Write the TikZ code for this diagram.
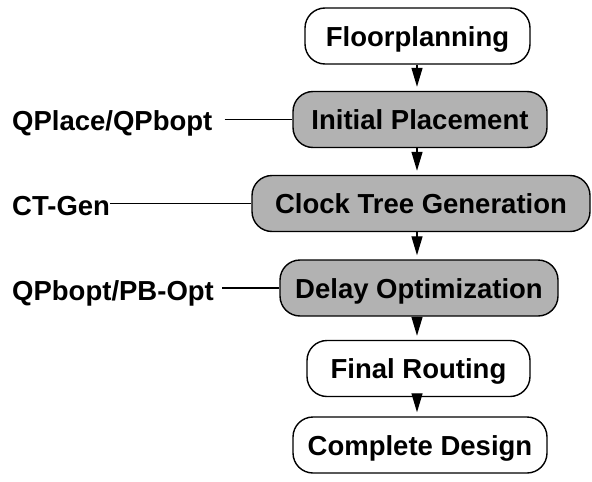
\documentclass[tikz,border=0pt]{standalone}
\usepackage{fontspec}
\setmainfont{Liberation Sans}
\usetikzlibrary{arrows.meta,calc}
\definecolor{boxgray}{RGB}{178,178,178}
\begin{document}
\begin{tikzpicture}[x=1pt,y=-1pt,
  every node/.style={font=\fontsize{27.5}{30}\selectfont\bfseries,text height=20pt,text depth=0pt},
  stepbox/.style={draw=black,line width=1.4pt,rounded corners=20pt,minimum height=56pt,inner sep=0pt,anchor=center},
  whitebox/.style={stepbox,fill=white},
  graybox/.style={stepbox,fill=boxgray},
  toollabel/.style={anchor=west,inner sep=0pt},
  conn/.style={line width=1.3pt,black},
  arr/.style={line width=1.3pt,black,-{Triangle[length=19pt,width=11pt]},shorten >=4pt}
]
\useasboundingbox (0,0) rectangle (592,482);
\node[whitebox,minimum width=225pt] (f) at (417.5,36) {Floorplanning};
\node[graybox,minimum width=254pt] (i) at (420,119.5) {Initial Placement};
\node[graybox,minimum width=338pt] (c) at (421,203.5) {Clock Tree Generation};
\node[graybox,minimum width=278pt] (d) at (419,288) {Delay Optimization};
\node[whitebox,minimum width=223pt] (r) at (418.5,368.5) {Final Routing};
\node[whitebox,minimum width=254pt] (e) at (420,445) {Complete Design};
\coordinate (ax) at (417,0);
\draw[arr] (f.south -| ax) -- (i.north -| ax);
\draw[arr] (i.south -| ax) -- (c.north -| ax);
\draw[arr] (c.south -| ax) -- (d.north -| ax);
\draw[arr] (d.south -| ax) -- (r.north -| ax);
\draw[arr] (r.south -| ax) -- (e.north -| ax);
\node[toollabel] (l1) at (12,120) {QPlace/QPbopt};
\node[toollabel] (l2) at (12,205) {CT-Gen};
\node[toollabel] (l3) at (12,290) {QPbopt/PB-Opt};
\draw[conn,shorten <=12pt] (l1.east |- i.west) -- (i.west);
\draw[conn] (l2.east |- c.west) -- (c.west);
\draw[conn,shorten <=8pt] (l3.east |- d.west) -- (d.west);
\end{tikzpicture}
\end{document}
